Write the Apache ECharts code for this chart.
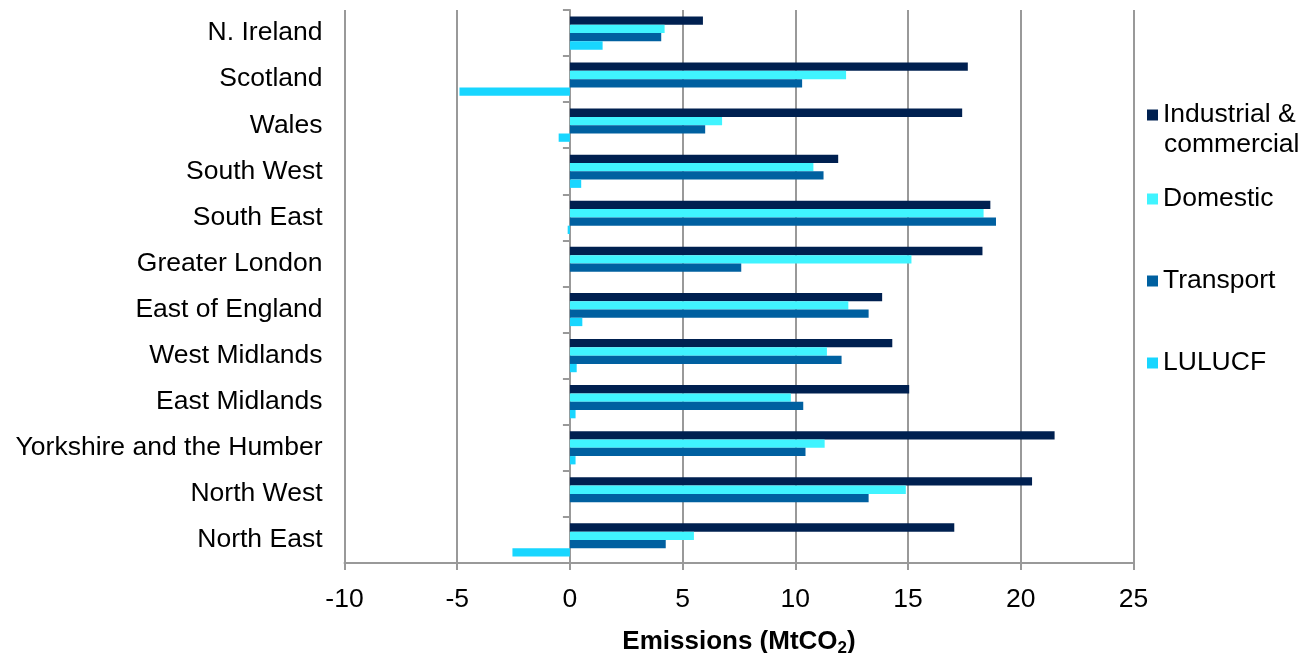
<!DOCTYPE html>
<html>
<head>
<meta charset="utf-8">
<script src="https://cdn.jsdelivr.net/npm/echarts@6/dist/echarts.min.js"></script>
<style>
  html, body { margin: 0; padding: 0; background: #fff; }
  #chart { width: 1311px; height: 653px; }
</style>
</head>
<body>
<div id="chart"></div>
<script>
// Regions, listed top to bottom
const regions = ['N. Ireland', 'Scotland', 'Wales', 'South West', 'South East', 'Greater London',
  'East of England', 'West Midlands', 'East Midlands', 'Yorkshire and the Humber', 'North West', 'North East'];

// Emissions by sector (MtCO2)
const industrial = [5.9, 17.65, 17.4, 11.9, 18.65, 18.3, 13.85, 14.3, 15.05, 21.5, 20.5, 17.05];
const domestic   = [4.2, 12.25, 6.75, 10.8, 18.35, 15.15, 12.35, 11.4, 9.8, 11.3, 14.9, 5.5];
const transport  = [4.05, 10.3, 6.0, 11.25, 18.9, 7.6, 13.25, 12.05, 10.35, 10.45, 13.25, 4.25];
const lulucf     = [1.45, -4.9, -0.5, 0.5, -0.1, 0, 0.55, 0.3, 0.25, 0.25, 0, -2.55];

const seriesNames = ['Industrial & commercial', 'Domestic', 'Transport', 'LULUCF'];

// Value axis range
const xMin = -10, xMax = 25, xStep = 5;

const FONT = "'Liberation Sans', Arial, sans-serif";
const FS = 26.5;
const GRID_GREY = '#999999';
const colors = ['#002050', '#40F4FF', '#0060A0', '#18D6FF'];

const LEGEND_LEFT = 1147;

const chart = echarts.init(document.getElementById('chart'), null, { renderer: 'canvas' });

function legendFor(name, top, extra) {
  return Object.assign({
    data: [name],
    orient: 'vertical',
    left: LEGEND_LEFT,
    top: top,
    padding: 0,
    itemWidth: 11,
    itemHeight: 11,
    icon: 'rect',
    selectedMode: false,
    textStyle: { fontFamily: FONT, fontSize: FS, color: '#000', lineHeight: 30 }
  }, extra || {});
}

const option = {
  animation: false,
  color: colors,
  textStyle: { fontFamily: FONT },
  grid: { left: 344.5, right: 177.5, top: 10, bottom: 90, containLabel: false, outerBoundsMode: 'none' },
  legend: [
    // first line of the two-line legend entry; the second line is a text element below
    legendFor(seriesNames[0], 100, { formatter: () => 'Industrial &' }),
    legendFor(seriesNames[1], 184),
    legendFor(seriesNames[2], 266),
    legendFor(seriesNames[3], 348)
  ],
  graphic: [{
    type: 'text',
    left: LEGEND_LEFT + 17,
    top: 130,
    style: {
      text: 'commercial',
      fontFamily: FONT,
      fontSize: FS,
      lineHeight: 30,
      fill: '#000'
    }
  }],
  xAxis: {
    type: 'value',
    min: xMin, max: xMax, interval: xStep,
    axisLine: { show: true, onZero: false, lineStyle: { color: GRID_GREY, width: 2 } },
    axisTick: { show: true, length: 7, lineStyle: { color: GRID_GREY, width: 2 } },
    axisLabel: { fontFamily: FONT, fontSize: FS, color: '#000', margin: 23 },
    splitLine: { show: true, lineStyle: { color: GRID_GREY, width: 2 } },
    name: '{b|Emissions (MtCO}{s|2}{b|)}',
    nameLocation: 'middle',
    nameGap: 64,
    nameTextStyle: {
      rich: {
        b: { fontFamily: FONT, fontSize: 26, fontWeight: 'bold', color: '#000', lineHeight: 30 },
        s: { fontFamily: FONT, fontSize: 17, fontWeight: 'bold', color: '#000', lineHeight: 17, verticalAlign: 'bottom' }
      }
    }
  },
  yAxis: [
    {
      // zero line with category boundary ticks
      type: 'category',
      data: regions,
      inverse: true,
      position: 'left',
      axisLine: { show: true, onZero: true, lineStyle: { color: GRID_GREY, width: 2 } },
      axisTick: { show: true, length: 7, lineStyle: { color: GRID_GREY, width: 2 } },
      axisLabel: { show: false },
      splitLine: { show: false }
    },
    {
      // region labels on the left edge
      type: 'category',
      data: regions,
      inverse: true,
      position: 'left',
      axisLine: { show: false, onZero: false },
      axisTick: { show: false },
      axisLabel: { fontFamily: FONT, fontSize: FS, color: '#000', margin: 22, padding: [4, 0, 0, 0] },
      splitLine: { show: false }
    }
  ],
  series: [industrial, domestic, transport, lulucf].map((vals, i) => ({
    name: seriesNames[i],
    type: 'bar',
    yAxisIndex: 0,
    data: vals,
    barGap: '0%',
    barCategoryGap: '28%',
    itemStyle: { color: colors[i] }
  }))
};

chart.setOption(option);
</script>
</body>
</html>
